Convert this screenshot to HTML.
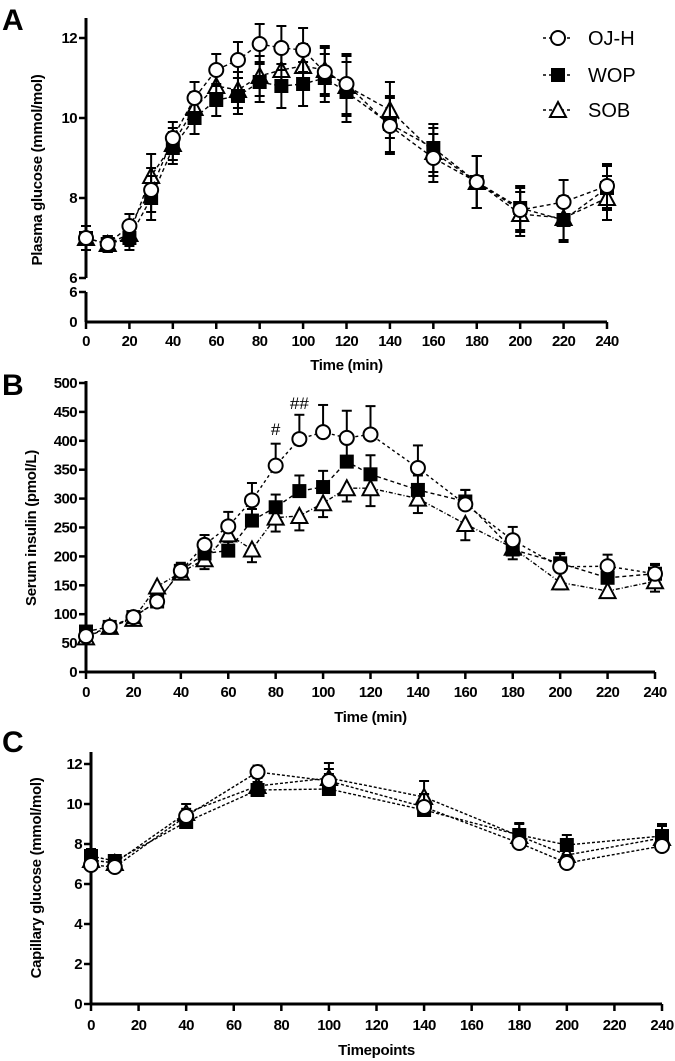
<!DOCTYPE html>
<html><head><meta charset="utf-8"><style>
body{margin:0;background:#fff}
svg{display:block;font-family:"Liberation Sans",Arial,sans-serif}
.t{font-weight:bold;font-size:15px;letter-spacing:-0.6px}
.at{font-weight:bold;font-size:15px;letter-spacing:-0.3px}
</style></head><body>
<svg id="s" width="675" height="1061" viewBox="0 0 675 1061">
<text x="2" y="30" font-size="30" font-weight="bold">A</text>
<text x="2" y="395" font-size="30" font-weight="bold">B</text>
<text x="2" y="752" font-size="30" font-weight="bold">C</text>
<g id="ga"></g>
<g id="gb"></g>
<g id="gc"></g>
</svg>
<script>
// Panel A data
const timesA=[0,10,20,30,40,50,60,70,80,90,100,110,120,140,160,180,200,220,240];
const ojhA=[7.0,6.85,7.3,8.2,9.5,10.5,11.2,11.45,11.85,11.75,11.7,11.15,10.85,9.8,9.0,8.4,7.7,7.9,8.3];
const wopA=[7.0,6.85,7.0,8.0,9.25,10.0,10.45,10.55,10.9,10.8,10.85,11.0,10.65,9.85,9.25,8.4,7.75,7.45,8.25];
const sobA=[7.0,6.85,7.1,8.55,9.35,10.25,10.8,10.7,11.05,11.2,11.3,11.2,10.8,10.2,9.15,8.4,7.6,7.5,8.0];
const errA=[0.3,0.2,0.3,0.55,0.4,0.4,0.4,0.45,0.5,0.55,0.55,0.6,0.75,0.7,0.6,0.65,0.55,0.55,0.55];
const ticksAx=[0,20,40,60,80,100,120,140,160,180,200,220,240];
const ticksAy=[6,8,10,12];
// Panel B data
const timesB=timesA;
const ojhB=[62,78,95,122,175,220,252,297,357,403,415,405,411,353,290,228,182,183,170];
const wopB=[70,78,95,122,175,205,210,262,285,313,320,364,342,315,295,212,188,163,170];
const sobB=[60,78,92,148,172,195,238,212,267,270,292,318,318,300,256,215,155,140,157];
const errOjhB=[8,6,8,10,14,17,25,30,38,42,47,47,49,39,25,23,22,20,17];
const errWopB=[8,6,8,10,12,15,15,20,22,27,28,35,33,25,20,18,18,15,15];
const errSobB=[8,6,8,10,12,17,20,22,24,25,24,23,31,25,28,20,12,12,18];
const ticksBy=[0,50,100,150,200,250,300,350,400,450,500];
// Panel C data
const timesC=[0,10,40,70,100,140,180,200,240];
const ojhC=[6.95,6.85,9.4,11.6,11.15,9.85,8.05,7.05,7.9];
const wopC=[7.4,7.15,9.1,10.7,10.75,9.7,8.45,7.95,8.4];
const sobC=[7.2,7.05,9.55,10.9,11.3,10.35,8.4,7.45,8.3];
const errC=[0.35,0.3,0.45,0.4,0.75,0.8,0.6,0.5,0.6];
const ticksCy=[0,2,4,6,8,10,12];

const NS="http://www.w3.org/2000/svg";
function mk(p,tag,at,txt){const e=document.createElementNS(NS,tag);for(const k in at)e.setAttribute(k,at[k]);if(txt!=null)e.textContent=txt;p.appendChild(e);return e;}
function marker(g,type,x,y,r){
 let e;
 if(type==='c'){e=mk(g,'circle',{cx:x,cy:y,r:r,fill:'#fff',stroke:'#000','stroke-width':2});}
 else if(type==='s'){e=mk(g,'rect',{x:x-r,y:y-r,width:2*r,height:2*r,fill:'#000'});}
 else {e=mk(g,'polygon',{points:`${x},${y-r-1} ${x-r-1},${y+r} ${x+r+1},${y+r}`,fill:'#fff',stroke:'#000','stroke-width':2});}
 
 
}
function series(g,xs,ys,errs,X,Y,type,dir,dash,name,r){
 const sg=mk(g,'g',{});
 
 
 const pts=xs.map((t,i)=>X(t)+','+Y(ys[i])).join(' ');
 mk(sg,'polyline',{points:pts,fill:'none',stroke:'#000','stroke-width':1.4,'stroke-dasharray':dash});
 xs.forEach((t,i)=>{
  const x=X(t),y=Y(ys[i]);
  const y1=dir===0?Y(ys[i]-errs[i]):(dir>0?y:Y(ys[i]-errs[i]));
  const y2=dir===0?Y(ys[i]+errs[i]):(dir>0?Y(ys[i]+errs[i]):y);
  mk(sg,'line',{x1:x,x2:x,y1:y1,y2:y2,stroke:'#000','stroke-width':2});
  if(dir>=0)mk(sg,'line',{x1:x-5,x2:x+5,y1:y2,y2:y2,stroke:'#000','stroke-width':2});
  if(dir<=0)mk(sg,'line',{x1:x-5,x2:x+5,y1:y1,y2:y1,stroke:'#000','stroke-width':2});
 });
 xs.forEach((t,i)=>marker(sg,type,X(t),Y(ys[i]),r));
}
function xaxis(g,X,y0,x0,x1,ticks,labY,title,titleY){
 mk(g,'line',{x1:x0,x2:x1,y1:y0,y2:y0,stroke:'#000','stroke-width':3});
 ticks.forEach(t=>{
  mk(g,'line',{x1:X(t),x2:X(t),y1:y0,y2:y0+7,stroke:'#000','stroke-width':2.5});
  const e=mk(g,'text',{x:X(t),y:labY,'text-anchor':'middle',class:'t'},t);
  
 });
 const tt=mk(g,'text',{x:(x0+x1)/2,y:titleY,'text-anchor':'middle',class:'at'},title);
 
}
function yticks(g,Y,x0,ticks){
 ticks.forEach(t=>{
  mk(g,'line',{x1:x0-7,x2:x0,y1:Y(t),y2:Y(t),stroke:'#000','stroke-width':2.5});
  const e=mk(g,'text',{x:x0-9,y:Y(t)+5,'text-anchor':'end',class:'t'},t);
  
 });
}
function ytitle(g,x,y,txt){
 const e=mk(g,'text',{x:0,y:0,transform:`translate(${x},${y}) rotate(-90)`,'text-anchor':'middle',class:'at'},txt);
 
}
// Panel A
(function(){
 const g=document.getElementById('ga');
 const X=t=>86+t*(607-86)/240, Y=v=>278-(v-6)*40;
 mk(g,'line',{x1:86,x2:86,y1:18,y2:278,stroke:'#000','stroke-width':3});
 mk(g,'line',{x1:86,x2:86,y1:292,y2:322,stroke:'#000','stroke-width':3});
 yticks(g,Y,86,ticksAy);
 mk(g,'line',{x1:79,x2:86,y1:292,y2:292,stroke:'#000','stroke-width':2.5});
 mk(g,'text',{x:77,y:297,'text-anchor':'end',class:'t'},'6');
 mk(g,'text',{x:77,y:327,'text-anchor':'end',class:'t'},'0');
 xaxis(g,X,322,86,607,ticksAx,346,'Time (min)',370);
 ytitle(g,42,170,'Plasma glucose (mmol/mol)');
 series(g,timesA,sobA,errA,X,Y,'t',0,'4,3','series-sob',7);
 series(g,timesA,wopA,errA,X,Y,'s',0,'4,3','series-wop',7);
 series(g,timesA,ojhA,errA,X,Y,'c',0,'4,3','series-ojh',7);
 const lg=mk(g,'g',{});
 [['c','OJ-H',38],['s','WOP',75],['t','SOB',110]].forEach(([ty,l,y])=>{
  mk(lg,'line',{x1:543,x2:573,y1:y,y2:y,stroke:'#000','stroke-width':1.5,'stroke-dasharray':'3,3'});
  marker(lg,ty,558,y,7);
  const e=mk(lg,'text',{x:588,y:y+7,'font-size':20},l);
  
 });
})();
// Panel B
(function(){
 const g=document.getElementById('gb');
 const X=t=>86+t*(655-86)/240, Y=v=>672-v*(672-383)/500;
 mk(g,'line',{x1:86,x2:86,y1:381,y2:672,stroke:'#000','stroke-width':3});
 yticks(g,Y,86,ticksBy);
 xaxis(g,X,672,86,655,ticksAx,697,'Time (min)',722);
 ytitle(g,36,528,'Serum insulin (pmol/L)');
 series(g,timesB,sobB,errSobB,X,Y,'t',-1,'4,2,1,2','series-sob',7);
 series(g,timesB,wopB,errWopB,X,Y,'s',1,'4,3','series-wop',7);
 series(g,timesB,ojhB,errOjhB,X,Y,'c',1,'3,3','series-ojh',7);
 mk(g,'text',{x:X(80),y:Y(410),'text-anchor':'middle','font-size':17},'#');
 mk(g,'text',{x:X(90),y:Y(455),'text-anchor':'middle','font-size':17},'##');
})();
// Panel C
(function(){
 const g=document.getElementById('gc');
 const X=t=>91+t*(662-91)/240, Y=v=>1004-v*(1004-764)/12;
 mk(g,'line',{x1:91,x2:91,y1:752,y2:1004,stroke:'#000','stroke-width':3});
 yticks(g,Y,91,ticksCy);
 xaxis(g,X,1004,91,662,ticksAx,1030,'Timepoints',1055);
 ytitle(g,41,878,'Capillary glucose (mmol/mol)');
 series(g,timesC,sobC,errC,X,Y,'t',1,'3,2','series-sob',7);
 series(g,timesC,wopC,errC,X,Y,'s',1,'3,2','series-wop',7);
 series(g,timesC,ojhC,errC.map(e=>e*0.8),X,Y,'c',1,'3,2','series-ojh',7);
})();
</script>
</body></html>
